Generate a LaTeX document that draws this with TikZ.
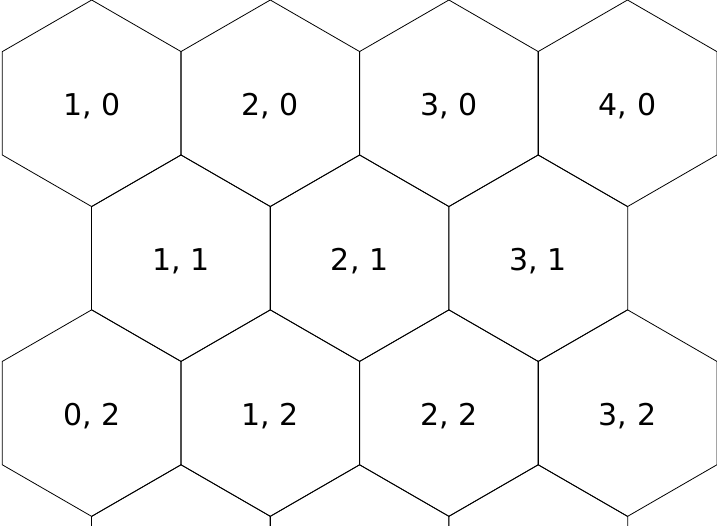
\documentclass[tikz,border=0pt]{standalone}
\usepackage{fontspec}
\setmainfont{DejaVu Sans}
\usetikzlibrary{shapes.geometric}

\begin{document}
\begin{tikzpicture}[
    x=1pt, y=-1pt,
    hexcell/.style={regular polygon, regular polygon sides=6,
                    shape border rotate=30, draw=black, line width=0.8pt,
                    minimum size=206.6pt, inner sep=0pt,
                    text height=25pt, text depth=0pt,
                    font=\fontsize{30}{36}\selectfont}
]
\useasboundingbox (0,0) rectangle (717,525);
\clip (0,0) rectangle (717,525);

% Row 0
\node[hexcell] (h10) at (91.7,103.3)  {1, 0};
\node[hexcell] (h20) at (270.3,103.3) {2, 0};
\node[hexcell] (h30) at (448.9,103.3) {3, 0};
\node[hexcell] (h40) at (627.5,103.3) {4, 0};

% Row 1, shifted by half a cell
\node[hexcell] (h11) at (181.0,258.2) {1, 1};
\node[hexcell] (h21) at (359.6,258.2) {2, 1};
\node[hexcell] (h31) at (538.2,258.2) {3, 1};

% Row 2
\node[hexcell] (h02) at (91.7,413.1)  {0, 2};
\node[hexcell] (h12) at (270.3,413.1) {1, 2};
\node[hexcell] (h22) at (448.9,413.1) {2, 2};
\node[hexcell] (h32) at (627.5,413.1) {3, 2};

% Row 3, cut off by the lower edge
\node[hexcell] (h03) at (181.0,568.0) {};
\node[hexcell] (h13) at (359.6,568.0) {};
\node[hexcell] (h23) at (538.2,568.0) {};
\end{tikzpicture}
\end{document}
